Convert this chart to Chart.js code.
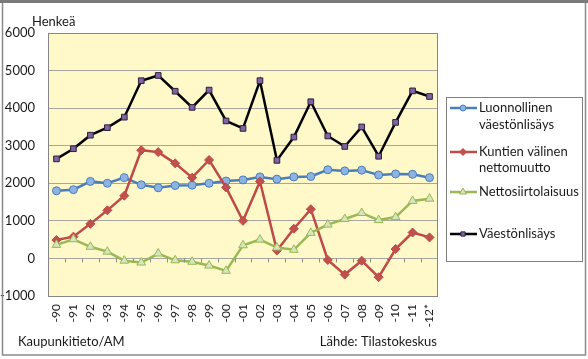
<!DOCTYPE html>
<html>
<head>
<meta charset="utf-8">
<script src="https://cdn.jsdelivr.net/npm/chart.js@4/dist/chart.umd.min.js"></script>
<style>
  html, body { margin: 0; padding: 0; background: #fff; }
  #wrap { width: 588px; height: 359px; }
</style>
</head>
<body>
<div id="wrap"><canvas id="myChart" width="588" height="359"></canvas></div>
<script>
var years = ['-90', '-91', '-92', '-93', '-94', '-95', '-96', '-97', '-98', '-99', '-00', '-01',
    '-02', '-03', '-04', '-05', '-06', '-07', '-08', '-09', '-10', '-11', '-12*'];

var luonnollinen = [1800, 1830, 2050, 2000, 2150, 1960, 1880, 1940, 1950, 2000, 2060, 2090,
    2170, 2110, 2170, 2180, 2360, 2330, 2350, 2220, 2250, 2240, 2150];
var kuntienValinen = [490, 580, 920, 1280, 1670, 2880, 2830, 2530, 2150, 2620, 1890, 1000,
    2050, 210, 790, 1310, -40, -430, -60, -500, 250, 690, 560];
var nettosiirto = [360, 510, 310, 180, -60, -110, 130, -50, -90, -190, -330, 350,
    500, 290, 230, 680, 900, 1050, 1210, 1020, 1100, 1530, 1590];
var vaestonlisays = [2650, 2920, 3280, 3480, 3760, 4730, 4870, 4450, 4020, 4480, 3660, 3460,
    4730, 2610, 3230, 4170, 3260, 2980, 3500, 2720, 3620, 4460, 4310];

var seriesNames = [['Luonnollinen', 'väestönlisäys'], ['Kuntien välinen', 'nettomuutto'],
    ['Nettosiirtolaisuus'], ['Väestönlisäys']];
var yTicks = [-1000, 0, 1000, 2000, 3000, 4000, 5000, 6000];

var FONT = 'Lato, "Open Sans", sans-serif';
var TXT = '#1a1a1a';

var extras = {
    id: 'extras',
    beforeDraw: function (chart) {
        var c = chart.ctx, a = chart.chartArea;
        c.save();
        c.fillStyle = '#ffffff';
        c.fillRect(0, 0, chart.width, chart.height);
        c.fillStyle = '#fff8c8';
        c.fillRect(a.left, a.top, a.right - a.left, a.bottom - a.top);
        c.restore();
    },
    afterDatasetsDraw: function (chart) {
        var c = chart.ctx, a = chart.chartArea;
        var y0 = chart.scales.y.getPixelForValue(0);
        var n = years.length;
        var step = (a.right - a.left) / n;
        c.save();
        c.strokeStyle = '#8c8c8c';
        c.lineWidth = 1;
        c.beginPath();
        for (var i = 1; i < n; i++) {
            var x = Math.round(a.left + i * step) + 0.5;
            c.moveTo(x, y0);
            c.lineTo(x, y0 + 4);
        }
        c.stroke();
        c.strokeStyle = '#868686';
        c.strokeRect(a.left + 0.5, a.top + 0.5, a.right - a.left - 1, a.bottom - a.top);
        c.restore();
    },
    afterDraw: function (chart) {
        var c = chart.ctx;
        c.save();
        // outer frame
        c.strokeStyle = '#8a8a8a';
        c.lineWidth = 1.5;
        c.strokeRect(2.5, 2, 583, 353);
        c.fillStyle = '#7a7a7a';
        c.fillRect(0, 0, 588, 3);

        // texts
        c.fillStyle = TXT;
        c.font = '13px ' + FONT;
        c.textBaseline = 'middle';
        c.textAlign = 'left';
        c.fillText('Henkeä', 32, 22);
        c.fillText('Kaupunkitieto/AM', 18, 342);
        c.textAlign = 'right';
        c.fillText('Lähde: Tilastokeskus', 437, 342);

        // legend
        c.strokeStyle = '#7f7f7f';
        c.lineWidth = 1;
        c.strokeRect(446.5, 97.5, 136, 164);
        var rows = [[108, 125], [152, 168], [192], [234]];
        chart.data.datasets.forEach(function (ds, i) {
            var y = rows[i][0];
            c.strokeStyle = ds.borderColor;
            c.lineWidth = 2.5;
            c.beginPath();
            c.moveTo(450, y);
            c.lineTo(477, y);
            c.stroke();
            c.fillStyle = ds.pointBackgroundColor;
            c.strokeStyle = ds.pointBorderColor;
            c.lineWidth = 1;
            Chart.helpers.drawPoint(c, {
                pointStyle: ds.pointStyle, radius: ds.pointRadius - 1,
                rotation: 0, borderWidth: 1
            }, 463, y);
            c.fillStyle = TXT;
            c.font = '13px ' + FONT;
            c.textAlign = 'left';
            seriesNames[i].forEach(function (t, j) {
                c.fillText(t, 479, rows[i][j]);
            });
        });
        c.restore();
    }
};

var ctx = document.getElementById('myChart').getContext('2d');
var myChart = new Chart(ctx, {
    type: 'line',
    data: {
        labels: years,
        datasets: [{
            label: seriesNames[0].join(' '),
            data: luonnollinen,
            borderColor: '#4a7ebb',
            pointBackgroundColor: '#8db3e2',
            pointBorderColor: '#4a7ebb',
            pointStyle: 'circle',
            pointRadius: 4,
            order: 4
        }, {
            label: seriesNames[1].join(' '),
            data: kuntienValinen,
            borderColor: '#be4b48',
            pointBackgroundColor: '#c0504d',
            pointBorderColor: '#be4b48',
            pointStyle: 'rectRot',
            pointRadius: 4.5,
            order: 3
        }, {
            label: seriesNames[2][0],
            data: nettosiirto,
            borderColor: '#98b954',
            pointBackgroundColor: '#d7e4bd',
            pointBorderColor: '#98b954',
            pointStyle: 'triangle',
            pointRadius: 5,
            order: 2
        }, {
            label: seriesNames[3][0],
            data: vaestonlisays,
            borderColor: '#000000',
            pointBackgroundColor: '#8064a2',
            pointBorderColor: '#2b1f3a',
            pointStyle: 'rect',
            pointRadius: 4,
            order: 1
        }]
    },
    options: {
        responsive: false,
        animation: false,
        devicePixelRatio: 1,
        elements: {
            line: { borderWidth: 2.5, tension: 0 },
            point: { borderWidth: 1 }
        },
        layout: { padding: { left: 0, top: 33, right: 150, bottom: 0 } },
        plugins: {
            legend: { display: false },
            tooltip: { enabled: false }
        },
        scales: {
            x: {
                offset: true,
                grid: { display: false, drawTicks: false },
                border: { display: false },
                ticks: {
                    autoSkip: false,
                    minRotation: 90, maxRotation: 90, padding: 8,
                    color: TXT, font: { family: FONT, size: 12 }
                },
                afterFit: function (s) { s.height = 63; }
            },
            y: {
                min: -1000,
                max: 6000,
                afterBuildTicks: function (s) {
                    s.ticks = yTicks.map(function (v) { return { value: v }; });
                },
                grid: { color: '#a6a6a0', drawTicks: false },
                border: { display: false },
                ticks: {
                    padding: 13,
                    color: TXT, font: { family: FONT, size: 13 },
                    callback: function (v) { return String(v); }
                },
                afterFit: function (s) { s.width = 48; }
            }
        }
    },
    plugins: [extras]
});
</script>
</body>
</html>
